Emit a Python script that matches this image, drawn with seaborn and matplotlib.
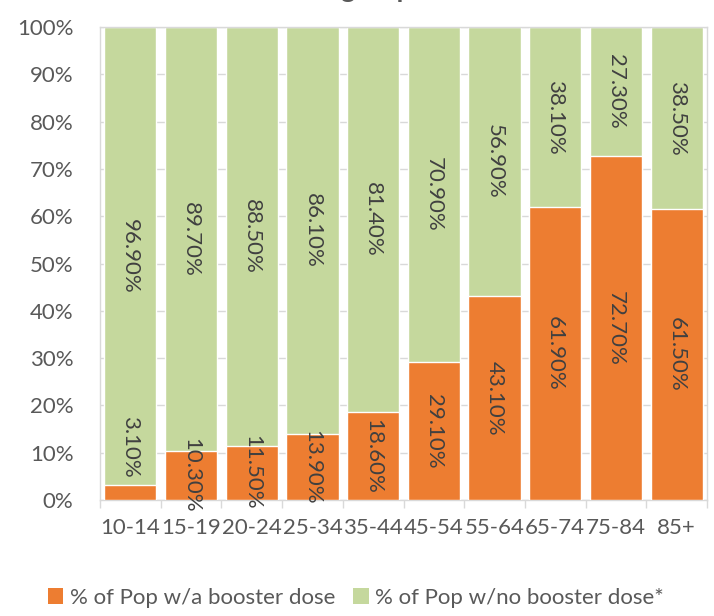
import matplotlib
matplotlib.use("Agg")
import matplotlib.pyplot as plt
import seaborn as sns
import pandas as pd
from matplotlib.patches import Patch
from matplotlib.ticker import FixedLocator, PercentFormatter

age_groups = ["10-14", "15-19", "20-24", "25-34", "35-44", "45-54", "55-64", "65-74", "75-84", "85+"]
booster = [3.1, 10.3, 11.5, 13.9, 18.6, 29.1, 43.1, 61.9, 72.7, 61.5]
no_booster = [96.9, 89.7, 88.5, 86.1, 81.4, 70.9, 56.9, 38.1, 27.3, 38.5]
series_names = ["% of Pop w/a booster dose", "% of Pop w/no booster dose*"]
title = "Share of population with and without a booster dose by age\ngroup"

ORANGE = "#ED7D31"
GREEN = "#C5D89D"
TXT = "#595959"
LBL = "#404040"

sns.set_theme(style="white")
plt.rcParams["font.family"] = ["Lato", "DejaVu Sans"]

df = pd.DataFrame({"age": age_groups, "booster": booster, "no_booster": no_booster})
df["total"] = df["booster"] + df["no_booster"]

fig = plt.figure(figsize=(7.14, 6.16), dpi=100)
ax = fig.add_axes([100 / 714, 1 - 500 / 616, 607 / 714, 473 / 616])

sns.barplot(data=df, x="age", y="total", color=GREEN, width=0.86, saturation=1, ax=ax, zorder=2)
sns.barplot(data=df, x="age", y="booster", color=ORANGE, width=0.86, saturation=1, ax=ax, zorder=3)

ax.set_ylim(0, 100)
ax.set_xlim(-0.5, len(age_groups) - 0.5)
ax.yaxis.set_major_locator(FixedLocator(range(0, 101, 10)))
ax.yaxis.set_major_formatter(PercentFormatter(decimals=0))
ax.grid(axis="y", color="#D9D9D9", linewidth=1, zorder=0)
ax.set_axisbelow(True)
ax.set_xlabel("")
ax.set_ylabel("")
for s in ax.spines.values():
    s.set_color("#D9D9D9")
    s.set_linewidth(1)
ax.tick_params(axis="y", length=0, pad=19, labelsize=16, labelcolor=TXT)
ax.tick_params(axis="x", which="major", length=0, pad=13, labelsize=16, labelcolor=TXT)
ax.xaxis.set_minor_locator(FixedLocator([i - 0.5 for i in range(len(age_groups) + 1)]))
ax.tick_params(axis="x", which="minor", length=6, color="#D9D9D9", width=1, bottom=True)

for i, (b, n) in enumerate(zip(booster, no_booster)):
    yb = b / 2 if b > 8 else b + 8.1
    ax.text(i, yb, f"{b:.2f}%", rotation=270, ha="center", va="center",
            fontsize=16, color=LBL, zorder=5, clip_on=False)
    ax.text(i, b + n / 2, f"{n:.2f}%", rotation=270, ha="center", va="center",
            fontsize=16, color=LBL, zorder=5)

handles = [Patch(facecolor=ORANGE, edgecolor="none"), Patch(facecolor=GREEN, edgecolor="none")]
fig.legend(handles, series_names, loc="center", bbox_to_anchor=(356 / 714, 1 - 598 / 616), ncol=2,
           frameon=False, fontsize=16, labelcolor=TXT, handlelength=0.7, handleheight=0.7,
           handletextpad=0.3, columnspacing=0.8)

fig.text(377 / 714, 1 - 1.5 / 616, title, ha="center", va="bottom", multialignment="center",
         fontsize=20, fontweight="bold", color=TXT)

fig.savefig("out.png", dpi=100)
